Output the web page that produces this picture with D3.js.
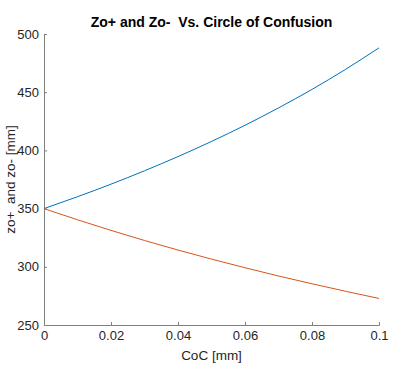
<!DOCTYPE html>
<html>
<head>
<meta charset="utf-8">
<script src="https://cdn.jsdelivr.net/npm/d3@7"></script>
<style>
body { margin: 0; background: #fff; }
text { font-family: "Liberation Sans", Arial, sans-serif; }
</style>
</head>
<body>
<svg id="chart" width="393" height="375"></svg>
<script>
// circle of confusion [mm]
var coc = [0, 0.01, 0.02, 0.03, 0.04, 0.05, 0.06, 0.07, 0.08, 0.09, 0.1];
// far limit zo+ [mm]
var zoPlus = [350, 360.2, 371.0, 382.5, 394.7, 407.7, 421.6, 436.5, 452.4, 469.6, 488.1];
// near limit zo- [mm]
var zoMinus = [350, 340.4, 331.3, 322.6, 314.4, 306.6, 299.2, 292.1, 285.4, 279.0, 272.8];

var xTicks = [0, 0.02, 0.04, 0.06, 0.08, 0.1];
var yTicks = [250, 300, 350, 400, 450, 500];

var svg = d3.select("#chart");
var plotL = 44, plotR = 379, plotT = 34, plotB = 325;

var x = d3.scaleLinear().domain([0, 0.1]).range([plotL, plotR]);
var y = d3.scaleLinear().domain([250, 500]).range([plotB, plotT]);

var axisColor = "#808080";

var xAxis = svg.append("g")
	.attr("transform", "translate(0," + plotB + ")")
	.call(d3.axisBottom(x).tickValues(xTicks).tickSize(-3).tickPadding(6)
		.tickFormat(function(d) { return String(+d.toFixed(2)); }));

var yAxis = svg.append("g")
	.attr("transform", "translate(" + plotL + ",0)")
	.call(d3.axisLeft(y).tickValues(yTicks).tickSize(-3).tickPadding(5));

[xAxis, yAxis].forEach(function(g) {
	g.select(".domain").attr("stroke", axisColor).attr("stroke-width", 1);
	g.selectAll(".tick line").attr("stroke", axisColor);
	g.selectAll(".tick text").attr("fill", "#262626").attr("font-size", 13)
		.style("font-family", "'Liberation Sans', Arial, sans-serif");
});

var line = d3.line()
	.x(function(d) { return x(d[0]); })
	.y(function(d) { return y(d[1]); })
	.curve(d3.curveMonotoneX);

svg.append("path")
	.datum(d3.zip(coc, zoPlus))
	.attr("fill", "none")
	.attr("stroke", "#0072BD")
	.attr("stroke-width", 1)
	.attr("d", line);

svg.append("path")
	.datum(d3.zip(coc, zoMinus))
	.attr("fill", "none")
	.attr("stroke", "#D95319")
	.attr("stroke-width", 1)
	.attr("d", line);

svg.append("text")
	.attr("x", (plotL + plotR) / 2)
	.attr("y", 27)
	.attr("text-anchor", "middle")
	.attr("font-weight", "bold")
	.attr("font-size", 14)
	.attr("fill", "#000")
	.style("white-space", "pre")
	.text("Zo+ and Zo-  Vs. Circle of Confusion");

svg.append("text")
	.attr("x", (plotL + plotR) / 2)
	.attr("y", 360)
	.attr("text-anchor", "middle")
	.attr("font-size", 13.5)
	.attr("fill", "#262626")
	.text("CoC [mm]");

svg.append("text")
	.attr("transform", "translate(15," + ((plotT + plotB) / 2) + ") rotate(-90)")
	.attr("text-anchor", "middle")
	.attr("font-size", 13.5)
	.attr("fill", "#262626")
	.style("white-space", "pre")
	.text("zo+  and zo- [mm]");
</script>
</body>
</html>
